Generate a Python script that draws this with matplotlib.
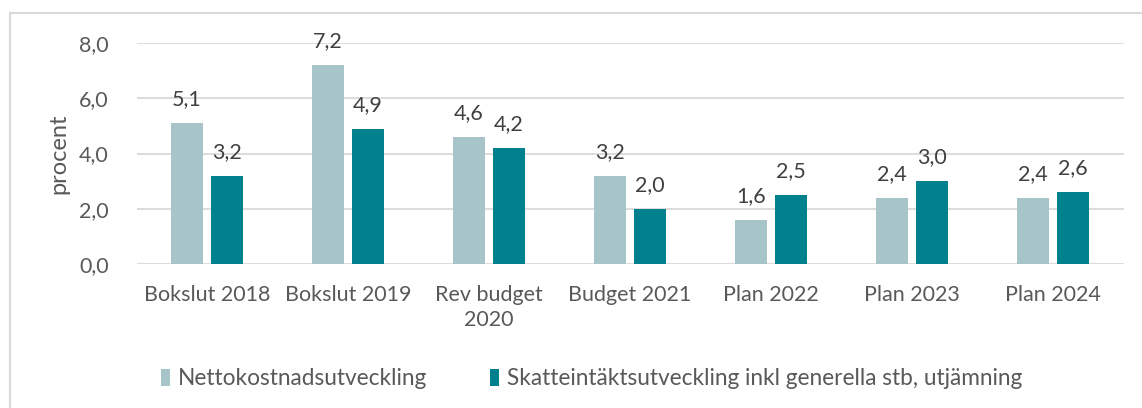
import numpy as np
import matplotlib.pyplot as plt
from matplotlib.patches import Rectangle

# data
kategorier = ['Bokslut 2018', 'Bokslut 2019', 'Rev budget\n2020', 'Budget 2021',
              'Plan 2022', 'Plan 2023', 'Plan 2024']
netto = [5.1, 7.2, 4.6, 3.2, 1.6, 2.4, 2.4]
skatt = [3.2, 4.9, 4.2, 2.0, 2.5, 3.0, 2.6]
serie_namn = ['Nettokostnadsutveckling',
              'Skatteintäktsutveckling inkl generella stb, utjämning']
yticks = [0, 2, 4, 6, 8]

ljus = '#A7C4C9'
mork = '#00818D'
textfarg = '#595959'
fs = 15.5

plt.rcParams['font.family'] = ['Lato', 'DejaVu Sans']

fig = plt.figure(figsize=(11.42, 4.08), dpi=100)
ax = fig.add_axes([136.5/1142, 1 - 264/408, (1123.5 - 136.5)/1142, (264 - 43)/408])

x = np.arange(len(kategorier))
b = 0.227
off = 0.142
r1 = ax.bar(x - off, netto, b, color=ljus, label=serie_namn[0], zorder=2)
r2 = ax.bar(x + off, skatt, b, color=mork, label=serie_namn[1], zorder=2)

for rects, vals in [(r1, netto), (r2, skatt)]:
    for r, v in zip(rects, vals):
        ax.text(r.get_x() + r.get_width()/2, v + 0.5, f'{v:.1f}'.replace('.', ','),
                ha='center', va='bottom', fontsize=fs, color='#404040')

ax.set_xlim(-0.5, len(kategorier) - 0.5)
ax.set_ylim(0, 8)
ax.set_yticks(yticks)
ax.set_yticklabels([f'{t:.1f}'.replace('.', ',') for t in yticks], fontsize=fs, color=textfarg)
ax.set_xticks(x)
ax.set_xticklabels(kategorier, fontsize=fs, color=textfarg, linespacing=1.35)
ax.tick_params(length=0)
ax.tick_params(axis='x', pad=15)
ax.tick_params(axis='y', pad=20)
ax.grid(axis='y', color='#D9D9D9', linewidth=1.3, zorder=0)
for s in ax.spines.values():
    s.set_visible(False)
ax.set_ylabel('procent', fontsize=17, color=textfarg, labelpad=7)

ax.legend(loc='center', bbox_to_anchor=(0.461, -0.52), ncol=2, frameon=False,
          fontsize=16.3, labelcolor=textfarg, handlelength=0.42, handleheight=0.72,
          handletextpad=0.35, columnspacing=2.75)

fig.patches.append(Rectangle((10/1142, -0.1), 1.2, 1 - 13/408 + 0.1,
                             transform=fig.transFigure, fill=False,
                             edgecolor='#D9D9D9', linewidth=1.5))

fig.savefig('out.png', dpi=100)
